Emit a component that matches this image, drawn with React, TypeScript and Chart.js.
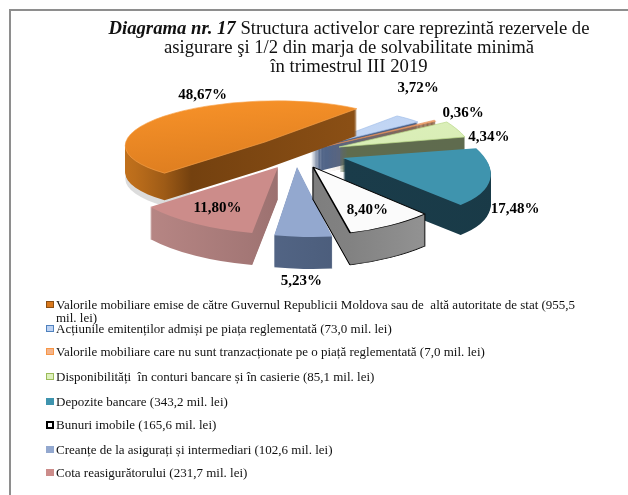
import React, { useEffect, useRef } from "react";
import { Chart, registerables } from "chart.js";

Chart.register(...registerables);

// ---- data ----
const categories = [
  "Valorile mobiliare emise de către Guvernul Republicii Moldova sau de  altă autoritate de stat",
  "Acțiunile emitenților admiși pe piața reglementată",
  "Valorile mobiliare care nu sunt tranzacționate pe o piață reglementată",
  "Disponibilități  în conturi bancare și în casierie",
  "Depozite bancare",
  "Bunuri imobile",
  "Creanțe de la asigurați și intermediari",
  "Cota reasigurătorului",
];
const valuesMil = [955.5, 73.0, 7.0, 85.1, 343.2, 165.6, 102.6, 231.7];
const percentLabels = ["48,67%", "3,72%", "0,36%", "4,34%", "17,48%", "8,40%", "5,23%", "11,80%"];

// ---- styles ----
const topColors = ["#F59028", "#BED3F3", "#F0A878", "#DDF0BC", "#3F94AE", "#FBFBFB", "#93A8CF", "#CC8C8A"];
const topColorsEnd = ["#D97A1E", "#C9DBF6", "#F0A878", "#D5EBB0", "#3F94AE", "#FBFBFB", "#93A8CF", "#CC8C8A"];
const borderColors = ["#F7A24A", "#9DBBE8", "#E08A50", "#B9D88A", "#3F94AE", "#000000", "#93A8CF", "#CC8C8A"];
const borderWidths = [1, 1, 1, 1, 0, 1.6, 0, 0];
const wallLeft = ["#C0701C", "#5A6E94", "#8F6A50", "#5F6E4E", "#1B3D4C", "#5C5C5C", "#5F7397", "#BC8A88"];
const wallMid = ["#74410F", "#526689", "#8F6A50", "#5F6C4E", "#1A3C4A", "#7E7E7E", "#4E607F", "#9C7170"];
const wallRight = ["#8F5216", "#4B5D80", "#8F6A50", "#5F6B4E", "#193A47", "#A0A0A0", "#3E4D68", "#7C5655"];
const wallOutlined = [false, false, false, false, false, true, false, false];
const depths = [27, 25, 26, 25, 30, 32, 32, 32];
const apexX = [-38, 8, 24, 36, 40, 10, -6, -25];
const apexY = [-11, -5, -7, -6, 5, 14, 14, 14];
const frameA = [138, 130.4, 120, 132.6, 142, 161, 177, 163];
const frameB = [22, 22, 0, 28.7, 41, 19.7, 16, 9.8];
const frameC = [-10, -10.3, 0, -0.4, 0, -12.4, 0, -1.7];
const frameD = [40, 37.7, 58, 58, 58.5, 67.7, 70, 67.2];
const labelDX = [39, 10, 28, 32, 25, -23, -2, 22];
const labelDY = [-21, -31, -8, 8, 29, -15, 44, -16];
const drawOrder = [1, 2, 3, 4, 7, 0, 6, 5];
const swatchColors = ["#D9781C", "#BED3F3", "#F4B48A", "#DDF0BC", "#3F94AE", "#FFFFFF", "#93A8CF", "#CC8C8A"];
const swatchBorders = ["#8A4E14", "#4F81BD", "#F79646", "#9BBB59", "#3F94AE", "#000000", "#93A8CF", "#CC8C8A"];
const legendRows = [305, 329, 352, 377, 402, 425, 450, 473];

const formatMil = (v: number) => `${v.toFixed(1).replace(".", ",")} mil. lei`;

const pie3dPlugin = {
  id: "pie3d",
  beforeDatasetsDraw(chart: any) {
    const { ctx } = chart;
    const arcs = chart.getDatasetMeta(0).data;
    const frame = (arc: any, i: number, dy: number) => {
      const R = arc.outerRadius;
      ctx.translate(arc.x + apexX[i], arc.y + apexY[i] + dy);
      ctx.transform(frameA[i] / R, frameC[i] / R, frameB[i] / R, frameD[i] / R, 0, 0);
      ctx.translate(-arc.x, -arc.y);
    };
    // soft shadow on the far left of the largest slice only
    ctx.save();
    ctx.beginPath();
    ctx.rect(0, 0, 190, 495);
    ctx.clip();
    ctx.globalAlpha = 0.35;
    frame(arcs[0], 0, 33);
    const sOrig = arcs[0].options;
    arcs[0].options = { ...sOrig, backgroundColor: "#9A9A9A", borderWidth: 0 };
    arcs[0].draw(ctx);
    arcs[0].options = sOrig;
    ctx.restore();

    for (const i of drawOrder) {
      const arc = arcs[i];
      const orig = arc.options;
      const R = arc.outerRadius;
      const wall = ctx.createLinearGradient(arc.x - R, 0, arc.x + R, 0);
      wall.addColorStop(0, wallLeft[i]);
      wall.addColorStop(i === 0 ? 0.2 : 0.5, wallMid[i]);
      wall.addColorStop(1, wallRight[i]);
      if (wallOutlined[i]) {
        for (let d = depths[i]; d >= 1; d -= 1) {
          ctx.save();
          frame(arc, i, d);
          arc.options = { ...orig, backgroundColor: wall, borderColor: "#000", borderWidth: 1.6 };
          arc.draw(ctx);
          ctx.restore();
        }
      }
      for (let d = depths[i] - (wallOutlined[i] ? 0.5 : 0); d >= 1; d -= 1) {
        ctx.save();
        frame(arc, i, d);
        arc.options = { ...orig, backgroundColor: wall, borderWidth: 0 };
        arc.draw(ctx);
        ctx.restore();
      }
      const face = ctx.createLinearGradient(0, arc.y - R, 0, arc.y + R);
      face.addColorStop(0, topColors[i]);
      face.addColorStop(1, topColorsEnd[i]);
      ctx.save();
      frame(arc, i, 0);
      arc.options = { ...orig, backgroundColor: face };
      arc.draw(ctx);
      ctx.restore();
      arc.options = orig;
    }
    return false;
  },
  afterDraw(chart: any) {
    const { ctx } = chart;
    const arcs = chart.getDatasetMeta(0).data;
    ctx.save();
    ctx.font = "bold 15px 'Liberation Serif'";
    ctx.fillStyle = "#000";
    ctx.textAlign = "center";
    ctx.textBaseline = "middle";
    arcs.forEach((arc: any, i: number) => {
      const mid = (arc.startAngle + arc.endAngle) / 2;
      const u = Math.cos(mid);
      const v = Math.sin(mid);
      const x = arc.x + apexX[i] + frameA[i] * u + frameB[i] * v;
      const y = arc.y + apexY[i] + frameC[i] * u + frameD[i] * v;
      ctx.fillText(percentLabels[i], x + labelDX[i], y + labelDY[i]);
    });
    ctx.restore();
  },
};

export default function App() {
  const ref = useRef<HTMLCanvasElement | null>(null);
  useEffect(() => {
    document.body.style.margin = "0";
    const chart = new Chart(ref.current as HTMLCanvasElement, {
      type: "pie",
      data: {
        labels: categories,
        datasets: [
          {
            data: valuesMil,
            backgroundColor: topColors,
            borderColor: borderColors,
            borderWidth: borderWidths,
            radius: 148,
          } as any,
        ],
      },
      options: {
        responsive: false,
        animation: false,
        events: [],
        rotation: 235,
        layout: { padding: { left: 0, right: 22, top: 0, bottom: 189 } },
        plugins: { legend: { display: false }, title: { display: false }, tooltip: { enabled: false } },
      },
      plugins: [pie3dPlugin],
    } as any);
    return () => chart.destroy();
  }, []);

  const serif = "'Liberation Serif', serif";
  return (
    <div style={{ position: "relative", width: 628, height: 495, background: "#fff", fontFamily: serif, color: "#111", overflow: "hidden" }}>
      <canvas ref={ref} width={628} height={495} style={{ display: "block", position: "absolute", left: 0, top: 0 }} />
      <div style={{ position: "absolute", left: 9, top: 9, width: 700, height: 600, border: "2px solid #8e8e8e", boxSizing: "border-box", pointerEvents: "none" }} />
      <div style={{ position: "absolute", left: 49, top: 18, width: 600, textAlign: "center", fontSize: 18.7, lineHeight: "19px" }}>
        <div>
          <b>
            <i>Diagrama nr. 17</i>
          </b>{" "}
          Structura activelor care reprezintă rezervele de
        </div>
        <div>asigurare şi 1/2 din marja de solvabilitate minimă</div>
        <div>în trimestrul III 2019</div>
      </div>
      {categories.map((c, i) => (
        <div key={c} style={{ position: "absolute", left: 46, top: legendRows[i] - 7, width: 545, fontSize: 13, lineHeight: "13px", whiteSpace: "pre-wrap" }}>
          <span
            style={{
              position: "absolute",
              left: 0,
              top: 3,
              width: 8,
              height: i === 5 ? 8 : 7,
              background: swatchColors[i],
              border: `${i === 5 ? 2 : 1}px solid ${swatchBorders[i]}`,
              boxSizing: "border-box",
            }}
          />
          <span style={{ display: "block", paddingLeft: 10 }}>{`${c} (${formatMil(valuesMil[i])})`}</span>
        </div>
      ))}
    </div>
  );
}
